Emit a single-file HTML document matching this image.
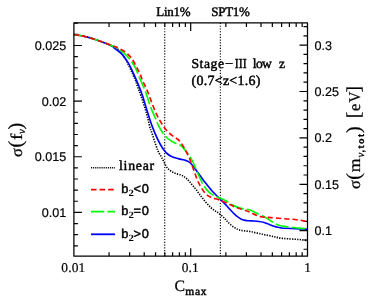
<!DOCTYPE html><html><head><meta charset="utf-8"><style>html,body{margin:0;padding:0;background:#fff}svg{display:block}text{text-rendering:geometricPrecision;filter:grayscale(1)}text{font-family:"Liberation Sans",sans-serif;fill:#000}.s{font-family:"Liberation Serif",serif;font-weight:bold}.r,.r text{font-family:"Liberation Serif",serif}.h{font-family:"Liberation Serif",serif;stroke:#000;stroke-width:0.45px}</style></head><body>
<svg width="374" height="303" viewBox="0 0 374 303">
<rect width="374" height="303" fill="#fff"/>
<line x1="164.7" y1="22.9" x2="164.7" y2="256.2" stroke="#111" stroke-width="1.2" stroke-dasharray="1.15 1.62"/>
<line x1="220.4" y1="22.9" x2="220.4" y2="256.2" stroke="#111" stroke-width="1.2" stroke-dasharray="1.15 1.62"/>
<path d="M109.06,256.2v-4M109.06,22.9v4M129.63,256.2v-4M129.63,22.9v4M144.22,256.2v-4M144.22,22.9v4M155.54,256.2v-4M155.54,22.9v4M164.79,256.2v-4M164.79,22.9v4M172.61,256.2v-4M172.61,22.9v4M179.38,256.2v-4M179.38,22.9v4M185.36,256.2v-4M185.36,22.9v4M190.70,256.2v-8M190.70,22.9v8M225.86,256.2v-4M225.86,22.9v4M246.43,256.2v-4M246.43,22.9v4M261.02,256.2v-4M261.02,22.9v4M272.34,256.2v-4M272.34,22.9v4M281.59,256.2v-4M281.59,22.9v4M289.41,256.2v-4M289.41,22.9v4M296.18,256.2v-4M296.18,22.9v4M302.16,256.2v-4M302.16,22.9v4M73.9,245.78h4M73.9,234.66h4M73.9,223.53h4M73.9,212.40h8M73.9,201.27h4M73.9,190.14h4M73.9,179.02h4M73.9,167.89h4M73.9,156.76h8M73.9,145.63h4M73.9,134.50h4M73.9,123.38h4M73.9,112.25h4M73.9,101.12h8M73.9,89.99h4M73.9,78.86h4M73.9,67.74h4M73.9,56.61h4M73.9,45.48h8M73.9,34.35h4M73.9,23.22h4M307.5,249.26h-4M307.5,239.98h-4M307.5,230.70h-8M307.5,221.42h-4M307.5,212.14h-4M307.5,202.86h-4M307.5,193.58h-4M307.5,184.30h-8M307.5,175.02h-4M307.5,165.74h-4M307.5,156.46h-4M307.5,147.18h-4M307.5,137.90h-8M307.5,128.62h-4M307.5,119.34h-4M307.5,110.06h-4M307.5,100.78h-4M307.5,91.50h-8M307.5,82.22h-4M307.5,72.94h-4M307.5,63.66h-4M307.5,54.38h-4M307.5,45.10h-8M307.5,35.82h-4M307.5,26.54h-4" stroke="#000" stroke-width="1.2" fill="none"/>
<g fill="none" stroke-linejoin="round">
<path d="M73.9,34.6C74.92,34.75 77.65,35.05 80,35.5C82.35,35.95 84.88,36.43 88,37.3C91.12,38.17 94.87,39.35 98.7,40.7C102.53,42.05 108.12,44.22 111,45.4C113.88,46.58 114.50,46.78 116,47.8C117.50,48.82 118.50,49.72 120,51.5C121.50,53.28 123.42,55.92 125,58.5C126.58,61.08 128.17,64.25 129.5,67C130.83,69.75 132.02,72.83 133,75C133.98,77.17 134.65,78.08 135.4,80C136.15,81.92 136.57,83.83 137.5,86.5C138.43,89.17 139.52,91.58 141,96C142.48,100.42 144.92,107.78 146.4,113C147.88,118.22 149.10,124.30 149.9,127.3C150.70,130.30 150.18,127.97 151.2,131C152.22,134.03 154.78,142.00 156,145.5C157.22,149.00 157.50,149.92 158.5,152C159.50,154.08 160.75,155.67 162,158C163.25,160.33 164.83,164.07 166,166C167.17,167.93 167.92,168.60 169,169.6C170.08,170.60 171.33,171.33 172.5,172C173.67,172.67 174.67,173.13 176,173.6C177.33,174.07 179.17,174.30 180.5,174.8C181.83,175.30 182.93,175.90 184,176.6C185.07,177.30 185.90,178.07 186.9,179C187.90,179.93 188.93,180.98 190,182.2C191.07,183.42 192.23,185.00 193.3,186.3C194.37,187.60 195.33,188.62 196.4,190C197.47,191.38 198.63,193.17 199.7,194.6C200.77,196.03 201.67,197.20 202.8,198.6C203.93,200.00 205.15,201.48 206.5,203C207.85,204.52 209.48,206.40 210.9,207.7C212.32,209.00 213.67,209.87 215,210.8C216.33,211.73 217.45,212.18 218.9,213.3C220.35,214.42 222.43,216.30 223.7,217.5C224.97,218.70 225.48,219.43 226.5,220.5C227.52,221.57 228.45,222.70 229.8,223.9C231.15,225.10 233.23,226.78 234.6,227.7C235.97,228.62 236.93,228.97 238,229.4C239.07,229.83 239.75,230.03 241,230.3C242.25,230.57 243.88,230.78 245.5,231C247.12,231.22 249.12,231.33 250.7,231.6C252.28,231.87 253.40,232.25 255,232.6C256.60,232.95 258.70,233.35 260.3,233.7C261.90,234.05 263.00,234.37 264.6,234.7C266.20,235.03 268.28,235.35 269.9,235.7C271.52,236.05 272.97,236.48 274.3,236.8C275.63,237.12 276.57,237.33 277.9,237.6C279.23,237.87 280.62,238.20 282.3,238.4C283.98,238.60 285.87,238.67 288,238.8C290.13,238.93 292.93,239.05 295.1,239.2C297.27,239.35 298.93,239.48 301,239.7C303.07,239.92 306.42,240.37 307.5,240.5" stroke="#000" stroke-width="1.6" stroke-dasharray="1.3 1.27"/>
<path d="M73.9,34.6C74.92,34.75 77.65,35.05 80,35.5C82.35,35.95 84.88,36.43 88,37.3C91.12,38.17 94.87,39.35 98.7,40.7C102.53,42.05 108.28,44.08 111,45.4C113.72,46.72 113.27,47.23 115,48.6C116.73,49.97 119.40,51.55 121.4,53.6C123.40,55.65 125.40,58.48 127,60.9C128.60,63.32 129.67,65.43 131,68.1C132.33,70.77 133.65,73.83 135,76.9C136.35,79.97 137.83,83.32 139.1,86.5C140.37,89.68 141.20,91.73 142.6,96C144.00,100.27 145.88,107.00 147.5,112.1C149.12,117.20 150.62,122.10 152.3,126.6C153.98,131.10 156.15,135.95 157.6,139.1C159.05,142.25 159.92,143.63 161,145.5C162.08,147.37 163.00,148.88 164.1,150.3C165.20,151.72 166.45,153.02 167.6,154C168.75,154.98 169.77,155.57 171,156.2C172.23,156.83 173.67,157.35 175,157.8C176.33,158.25 177.62,158.58 179,158.9C180.38,159.22 182.13,159.42 183.3,159.7C184.47,159.98 185.13,160.28 186,160.6C186.87,160.92 187.58,161.00 188.5,161.6C189.42,162.20 190.43,163.07 191.5,164.2C192.57,165.33 193.82,166.97 194.9,168.4C195.98,169.83 196.93,171.32 198,172.8C199.07,174.28 200.13,175.72 201.3,177.3C202.47,178.88 203.65,180.57 205,182.3C206.35,184.03 207.90,185.92 209.4,187.7C210.90,189.48 212.42,191.32 214,193C215.58,194.68 217.40,196.30 218.9,197.8C220.40,199.30 221.67,200.63 223,202C224.33,203.37 225.50,204.50 226.9,206C228.30,207.50 230.05,209.57 231.4,211C232.75,212.43 233.93,213.62 235,214.6C236.07,215.58 236.80,216.18 237.8,216.9C238.80,217.62 239.92,218.37 241,218.9C242.08,219.43 243.05,219.78 244.3,220.1C245.55,220.42 246.90,220.65 248.5,220.8C250.10,220.95 252.15,220.88 253.9,221C255.65,221.12 257.43,221.28 259,221.5C260.57,221.72 261.97,221.97 263.3,222.3C264.63,222.63 265.68,223.02 267,223.5C268.32,223.98 269.95,224.72 271.2,225.2C272.45,225.68 273.42,226.05 274.5,226.4C275.58,226.75 276.62,227.05 277.7,227.3C278.78,227.55 279.78,227.73 281,227.9C282.22,228.07 282.65,228.17 285,228.3C287.35,228.43 291.35,228.55 295.1,228.7C298.85,228.85 305.43,229.12 307.5,229.2" stroke="#0000ff" stroke-width="1.65"/>
<path d="M73.9,34.6C74.92,34.75 77.65,35.05 80,35.5C82.35,35.95 84.88,36.43 88,37.3C91.12,38.17 94.87,39.35 98.7,40.7C102.53,42.05 107.75,44.08 111,45.4C114.25,46.72 115.93,47.23 118.2,48.6C120.47,49.97 122.47,51.55 124.6,53.6C126.73,55.65 129.12,58.35 131,60.9C132.88,63.45 134.55,66.23 135.9,68.9C137.25,71.57 138.03,74.37 139.1,76.9C140.17,79.43 141.17,81.45 142.3,84.1C143.43,86.75 144.50,88.93 145.9,92.8C147.30,96.67 149.13,103.10 150.7,107.3C152.27,111.50 154.02,115.00 155.3,118C156.58,121.00 157.20,122.88 158.4,125.3C159.60,127.72 161.05,130.38 162.5,132.5C163.95,134.62 165.50,136.50 167.1,138C168.70,139.50 170.47,140.52 172.1,141.5C173.73,142.48 175.58,143.32 176.9,143.9C178.22,144.48 179.07,144.47 180,145C180.93,145.53 181.42,145.95 182.5,147.1C183.58,148.25 185.42,150.50 186.5,151.9C187.58,153.30 188.00,153.95 189,155.5C190.00,157.05 191.42,159.12 192.5,161.2C193.58,163.28 194.53,165.78 195.5,168C196.47,170.22 197.42,172.50 198.3,174.5C199.18,176.50 199.92,178.22 200.8,180C201.68,181.78 202.33,183.25 203.6,185.2C204.87,187.15 206.65,189.95 208.4,191.7C210.15,193.45 211.82,194.50 214.1,195.7C216.38,196.90 220.02,197.97 222.1,198.9C224.18,199.83 224.78,200.25 226.6,201.3C228.42,202.35 230.60,204.02 233,205.2C235.40,206.38 238.32,207.63 241,208.4C243.68,209.17 247.10,209.32 249.1,209.8C251.10,210.28 251.67,210.70 253,211.3C254.33,211.90 255.43,212.62 257.1,213.4C258.77,214.18 261.35,215.18 263,216C264.65,216.82 265.67,217.47 267,218.3C268.33,219.13 269.50,220.05 271,221C272.50,221.95 274.65,223.28 276,224C277.35,224.72 277.78,224.90 279.1,225.3C280.42,225.70 281.23,226.00 283.9,226.4C286.57,226.80 291.17,227.30 295.1,227.7C299.03,228.10 305.43,228.62 307.5,228.8" stroke="#00ff00" stroke-width="1.65" stroke-dasharray="13.3 3.1"/>
<path d="M73.9,34.6C74.92,34.75 77.65,35.05 80,35.5C82.35,35.95 84.88,36.43 88,37.3C91.12,38.17 94.87,39.40 98.7,40.7C102.53,42.00 108.02,44.02 111,45.1C113.98,46.18 114.33,46.13 116.6,47.2C118.87,48.27 122.20,49.77 124.6,51.5C127.00,53.23 129.12,55.23 131,57.6C132.88,59.97 134.42,63.02 135.9,65.7C137.38,68.38 138.70,71.03 139.9,73.7C141.10,76.37 141.83,78.78 143.1,81.7C144.37,84.62 145.97,87.47 147.5,91.2C149.03,94.93 150.68,100.03 152.3,104.1C153.92,108.17 155.50,112.13 157.2,115.6C158.90,119.07 161.12,122.65 162.5,124.9C163.88,127.15 164.43,127.80 165.5,129.1C166.57,130.40 167.82,131.67 168.9,132.7C169.98,133.73 170.93,134.50 172,135.3C173.07,136.10 174.30,136.80 175.3,137.5C176.30,138.20 177.20,138.82 178,139.5C178.80,140.18 179.40,140.75 180.1,141.6C180.80,142.45 181.53,143.58 182.2,144.6C182.87,145.62 183.43,146.55 184.1,147.7C184.77,148.85 185.33,149.78 186.2,151.5C187.07,153.22 188.12,155.12 189.3,158C190.48,160.88 191.98,165.20 193.3,168.8C194.62,172.40 195.88,176.47 197.2,179.6C198.52,182.73 199.73,185.18 201.2,187.6C202.67,190.02 204.38,192.48 206,194.1C207.62,195.72 208.75,196.33 210.9,197.3C213.05,198.27 216.23,198.95 218.9,199.9C221.57,200.85 224.28,201.83 226.9,203C229.52,204.17 231.98,205.83 234.6,206.9C237.22,207.97 240.18,208.58 242.6,209.4C245.02,210.22 247.37,211.07 249.1,211.8C250.83,212.53 251.67,213.18 253,213.8C254.33,214.42 255.77,215.02 257.1,215.5C258.43,215.98 259.67,216.40 261,216.7C262.33,217.00 263.43,217.15 265.1,217.3C266.77,217.45 267.87,217.37 271,217.6C274.13,217.83 279.88,218.38 283.9,218.7C287.92,219.02 291.90,219.15 295.1,219.5C298.30,219.85 301.03,220.35 303.1,220.8C305.17,221.25 306.77,221.97 307.5,222.2" stroke="#ff0000" stroke-width="1.65" stroke-dasharray="5.2 3"/>
</g>
<rect x="73.9" y="22.9" width="233.6" height="233.29999999999998" fill="none" stroke="#000" stroke-width="1.25" stroke-linejoin="round"/>
<text x="66.2" y="50.0" font-size="12.6" text-anchor="end" stroke="#000" stroke-width="0.2">0.025</text>
<text x="66.2" y="105.6" font-size="12.6" text-anchor="end" stroke="#000" stroke-width="0.2">0.02</text>
<text x="66.2" y="161.3" font-size="12.6" text-anchor="end" stroke="#000" stroke-width="0.2">0.015</text>
<text x="66.2" y="216.9" font-size="12.6" text-anchor="end" stroke="#000" stroke-width="0.2">0.01</text>
<text x="314.6" y="49.6" font-size="12.6" stroke="#000" stroke-width="0.2">0.3</text>
<text x="314.6" y="96.0" font-size="12.6" stroke="#000" stroke-width="0.2">0.25</text>
<text x="314.6" y="142.4" font-size="12.6" stroke="#000" stroke-width="0.2">0.2</text>
<text x="314.6" y="188.8" font-size="12.6" stroke="#000" stroke-width="0.2">0.15</text>
<text x="314.6" y="235.2" font-size="12.6" stroke="#000" stroke-width="0.2">0.1</text>
<text x="61.3" y="271.6" font-size="13.4" class="r" stroke="#000" stroke-width="0.2" textLength="24" lengthAdjust="spacing">0.01</text>
<text x="181.8" y="271.6" font-size="13.4" class="r" stroke="#000" stroke-width="0.2" textLength="17" lengthAdjust="spacing">0.1</text>
<text x="304.2" y="271.6" font-size="13.4" class="r" stroke="#000" stroke-width="0.2">1</text>
<text x="156.3" y="16.2" font-size="13" class="h" textLength="34.2" lengthAdjust="spacing">Lin1%</text>
<text x="211.3" y="16.2" font-size="13" class="h" textLength="38.6" lengthAdjust="spacing">SPT1%</text>
<text y="67.9" font-size="13.6" class="h"><tspan x="191.4" textLength="32.6" lengthAdjust="spacing">Stage</tspan><tspan x="225" textLength="8.2" lengthAdjust="spacingAndGlyphs">−</tspan><tspan x="234.8" textLength="11.8" lengthAdjust="spacingAndGlyphs">III</tspan><tspan x="252.8" textLength="19" lengthAdjust="spacing">low</tspan><tspan x="279" >z</tspan></text>
<text x="191.5" y="84.7" font-size="14" class="h" textLength="69" lengthAdjust="spacing">(0.7&lt;z&lt;1.6)</text>
<line x1="91" y1="167.8" x2="115" y2="167.8" stroke="#000" stroke-width="1.4" stroke-dasharray="1 0.9"/>
<text x="119" y="170.4" font-size="13.8" class="h" textLength="35.2" lengthAdjust="spacing">linear</text>
<line x1="91" y1="189.7" x2="115" y2="189.7" stroke="#f00" stroke-width="1.8" stroke-dasharray="5.5 3.1"/>
<line x1="91" y1="211.6" x2="115" y2="211.6" stroke="#0f0" stroke-width="1.8" stroke-dasharray="13.3 3.1"/>
<line x1="91" y1="234.3" x2="115" y2="234.3" stroke="#00f" stroke-width="1.8"/>
<g stroke="#000" stroke-width="0.45"><text x="121.3" y="193" font-size="12.8">b</text><text x="128.4" y="196.2" font-size="9.5" class="s" stroke="none" textLength="5.4" lengthAdjust="spacingAndGlyphs">2</text><text x="133.6" y="193" font-size="12.8" textLength="15.3" lengthAdjust="spacing">&lt;0</text></g>
<g stroke="#000" stroke-width="0.45"><text x="121.3" y="215" font-size="12.8">b</text><text x="128.4" y="218.2" font-size="9.5" class="s" stroke="none" textLength="5.4" lengthAdjust="spacingAndGlyphs">2</text><text x="133.6" y="215" font-size="12.8" textLength="15.3" lengthAdjust="spacing">=0</text></g>
<g stroke="#000" stroke-width="0.45"><text x="121.3" y="237.6" font-size="12.8">b</text><text x="128.4" y="240.79999999999998" font-size="9.5" class="s" stroke="none" textLength="5.4" lengthAdjust="spacingAndGlyphs">2</text><text x="133.6" y="237.6" font-size="12.8" textLength="15.3" lengthAdjust="spacing">&gt;0</text></g>
<text x="174.6" y="290.8" font-size="15.8" class="r" stroke="#000" stroke-width="0.25">C</text><text x="185.2" y="295.1" font-size="11.5" class="h" textLength="21.3" lengthAdjust="spacing">max</text>
<g transform="translate(21.5,157) rotate(-90)" class="r" font-size="16.5" stroke="#000" stroke-width="0.25"><text x="0" y="0">σ</text><text x="9.6" y="0" font-size="20">(</text><text x="16.9" y="0" textLength="6.4" lengthAdjust="spacingAndGlyphs">f</text><text x="23.1" y="3.8" font-size="11" font-style="italic">ν</text><text x="27.4" y="0" font-size="20">)</text></g>
<g transform="translate(360.4,189) rotate(-90)" class="r" font-size="16.5" stroke="#000" stroke-width="0.25"><text x="0" y="0">σ</text><text x="9.3" y="0" font-size="20">(</text><text x="16.7" y="0" textLength="13.8" lengthAdjust="spacingAndGlyphs">m</text><text x="31.5" y="4" font-size="11" font-style="italic">ν</text><text x="36.5" y="4" font-size="9" style="font-family:'Liberation Sans',sans-serif;font-weight:bold" textLength="18.5" lengthAdjust="spacing">,tot</text><text x="55.9" y="0" font-size="20">)</text><text x="70.7" y="0" font-size="19.6">[</text><text x="77.9" y="0">e</text><text x="86.4" y="0" textLength="10.8" lengthAdjust="spacingAndGlyphs">V</text><text x="96.4" y="0" font-size="19.6">]</text></g>
</svg></body></html>
